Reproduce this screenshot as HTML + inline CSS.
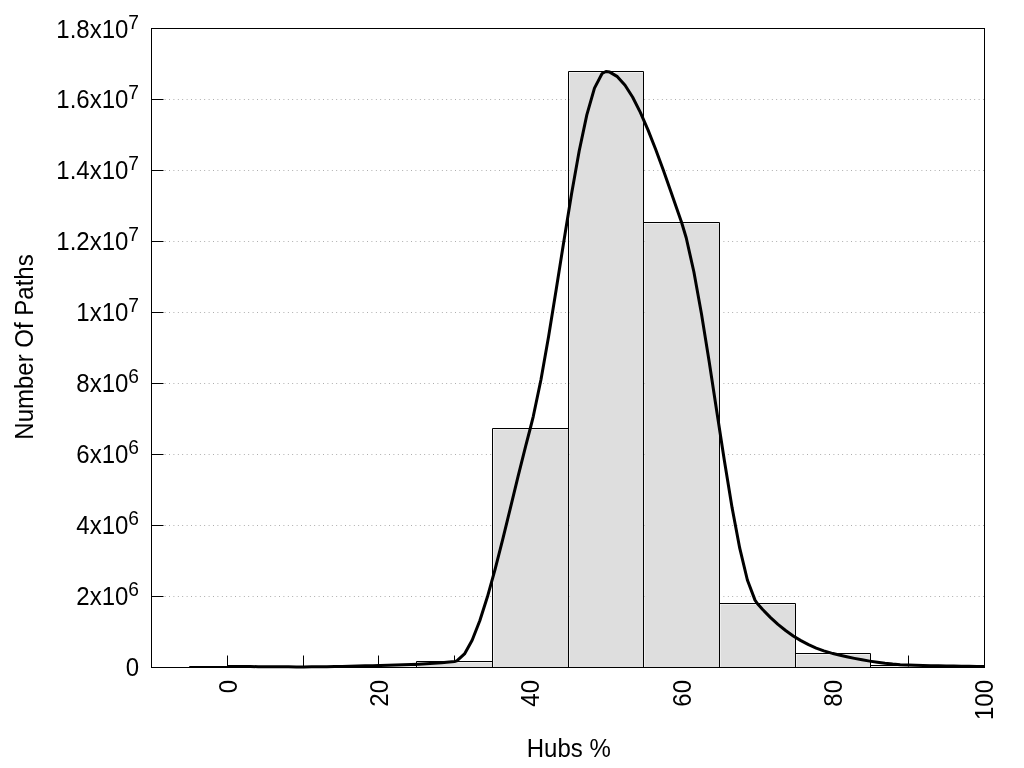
<!DOCTYPE html><html><head><meta charset="utf-8"><style>html,body{margin:0;padding:0;background:#fff;overflow:hidden}svg{display:block}text{font-family:"Liberation Sans",Arial,sans-serif;fill:#000}svg{will-change:transform}</style></head><body>
<svg width="1024" height="768" viewBox="0 0 1024 768">
<rect width="1024" height="768" fill="#fff"/>
<line x1="151.475" y1="596.5" x2="985" y2="596.5" stroke="#a0a0a0" stroke-width="1" stroke-dasharray="0.85 3.55"/>
<line x1="151.475" y1="525.5" x2="985" y2="525.5" stroke="#a0a0a0" stroke-width="1" stroke-dasharray="0.85 3.55"/>
<line x1="151.475" y1="454.5" x2="985" y2="454.5" stroke="#a0a0a0" stroke-width="1" stroke-dasharray="0.85 3.55"/>
<line x1="151.475" y1="383.5" x2="985" y2="383.5" stroke="#a0a0a0" stroke-width="1" stroke-dasharray="0.85 3.55"/>
<line x1="151.475" y1="312.5" x2="985" y2="312.5" stroke="#a0a0a0" stroke-width="1" stroke-dasharray="0.85 3.55"/>
<line x1="151.475" y1="241.5" x2="985" y2="241.5" stroke="#a0a0a0" stroke-width="1" stroke-dasharray="0.85 3.55"/>
<line x1="151.475" y1="170.5" x2="985" y2="170.5" stroke="#a0a0a0" stroke-width="1" stroke-dasharray="0.85 3.55"/>
<line x1="151.475" y1="99.5" x2="985" y2="99.5" stroke="#a0a0a0" stroke-width="1" stroke-dasharray="0.85 3.55"/>
<line x1="151" y1="667.5" x2="163.5" y2="667.5" stroke="#000" stroke-width="1"/>
<line x1="151" y1="596.5" x2="163.5" y2="596.5" stroke="#000" stroke-width="1"/>
<line x1="151" y1="525.5" x2="163.5" y2="525.5" stroke="#000" stroke-width="1"/>
<line x1="151" y1="454.5" x2="163.5" y2="454.5" stroke="#000" stroke-width="1"/>
<line x1="151" y1="383.5" x2="163.5" y2="383.5" stroke="#000" stroke-width="1"/>
<line x1="151" y1="312.5" x2="163.5" y2="312.5" stroke="#000" stroke-width="1"/>
<line x1="151" y1="241.5" x2="163.5" y2="241.5" stroke="#000" stroke-width="1"/>
<line x1="151" y1="170.5" x2="163.5" y2="170.5" stroke="#000" stroke-width="1"/>
<line x1="151" y1="99.5" x2="163.5" y2="99.5" stroke="#000" stroke-width="1"/>
<line x1="151" y1="28.5" x2="163.5" y2="28.5" stroke="#000" stroke-width="1"/>
<line x1="227.5" y1="667" x2="227.5" y2="655.5" stroke="#000" stroke-width="1"/>
<line x1="303.5" y1="667" x2="303.5" y2="655.5" stroke="#000" stroke-width="1"/>
<line x1="378.5" y1="667" x2="378.5" y2="655.5" stroke="#000" stroke-width="1"/>
<line x1="454.5" y1="667" x2="454.5" y2="655.5" stroke="#000" stroke-width="1"/>
<line x1="530.5" y1="667" x2="530.5" y2="655.5" stroke="#000" stroke-width="1"/>
<line x1="605.5" y1="667" x2="605.5" y2="655.5" stroke="#000" stroke-width="1"/>
<line x1="681.5" y1="667" x2="681.5" y2="655.5" stroke="#000" stroke-width="1"/>
<line x1="757.5" y1="667" x2="757.5" y2="655.5" stroke="#000" stroke-width="1"/>
<line x1="833.5" y1="667" x2="833.5" y2="655.5" stroke="#000" stroke-width="1"/>
<line x1="908.5" y1="667" x2="908.5" y2="655.5" stroke="#000" stroke-width="1"/>
<line x1="984.5" y1="667" x2="984.5" y2="655.5" stroke="#000" stroke-width="1"/>
<rect x="190.5" y="667.5" width="74.5" height="-0.5" fill="#dedede"/>
<path d="M189.5,667.5V666.5H265.5V667.5" fill="none" stroke="#000" stroke-width="1"/>
<rect x="266.5" y="667.5" width="74.5" height="-0.5" fill="#dedede"/>
<path d="M265.5,667.5V666.5H341.5V667.5" fill="none" stroke="#000" stroke-width="1"/>
<rect x="342.5" y="666.5" width="73.5" height="0.5" fill="#dedede"/>
<path d="M341.5,667.5V665.5H416.5V667.5" fill="none" stroke="#000" stroke-width="1"/>
<rect x="417.5" y="662.5" width="74.5" height="4.5" fill="#dedede"/>
<path d="M416.5,667.5V661.5H492.5V667.5" fill="none" stroke="#000" stroke-width="1"/>
<rect x="493.5" y="429.5" width="74.5" height="237.5" fill="#dedede"/>
<path d="M492.5,667.5V428.5H568.5V667.5" fill="none" stroke="#000" stroke-width="1"/>
<rect x="569.5" y="72.5" width="73.5" height="594.5" fill="#dedede"/>
<path d="M568.5,667.5V71.5H643.5V667.5" fill="none" stroke="#000" stroke-width="1"/>
<rect x="644.5" y="223.5" width="74.5" height="443.5" fill="#dedede"/>
<path d="M643.5,667.5V222.5H719.5V667.5" fill="none" stroke="#000" stroke-width="1"/>
<rect x="720.5" y="604.5" width="74.5" height="62.5" fill="#dedede"/>
<path d="M719.5,667.5V603.5H795.5V667.5" fill="none" stroke="#000" stroke-width="1"/>
<rect x="796.5" y="654.5" width="73.5" height="12.5" fill="#dedede"/>
<path d="M795.5,667.5V653.5H870.5V667.5" fill="none" stroke="#000" stroke-width="1"/>
<rect x="871.5" y="666.5" width="74.5" height="0.5" fill="#dedede"/>
<path d="M870.5,667.5V665.5H946.5V667.5" fill="none" stroke="#000" stroke-width="1"/>
<rect x="947.5" y="667.5" width="36.5" height="-0.5" fill="#dedede"/>
<path d="M946.5,667.5V666.5H984.5V667.5" fill="none" stroke="#000" stroke-width="1"/>
<rect x="151.5" y="28.5" width="833" height="639" fill="none" stroke="#000" stroke-width="1"/>
<polyline points="227.49,666.40 235.14,666.46 242.78,666.52 250.43,666.58 258.07,666.65 265.72,666.72 273.36,666.78 281.01,666.83 288.65,666.87 296.30,666.89 303.18,666.90 303.94,666.90 311.59,666.87 319.23,666.81 326.88,666.71 334.52,666.59 342.17,666.44 349.82,666.26 357.46,666.07 365.11,665.87 372.75,665.67 378.87,665.50 380.40,665.46 388.04,665.25 395.69,665.02 403.33,664.77 410.98,664.47 418.62,664.13 426.27,663.73 433.91,663.25 441.56,662.69 449.21,662.03 454.56,661.50 456.85,660.90 464.50,653.95 472.14,640.22 479.79,620.81 487.43,596.81 495.08,569.31 502.72,539.38 510.37,508.13 518.01,476.65 525.66,446.02 530.25,428.50 533.30,416.31 540.95,379.71 548.59,336.50 556.24,289.36 563.89,240.95 571.53,193.95 579.18,151.03 586.82,114.86 594.47,88.11 602.11,73.46 605.93,71.50 609.76,72.09 617.40,76.64 625.05,85.21 632.69,97.30 640.34,112.36 647.98,129.86 655.63,149.28 663.28,170.09 670.92,191.75 678.57,213.73 681.62,222.50 686.21,237.79 693.86,271.77 701.50,313.92 709.15,361.41 716.79,411.41 724.44,461.10 732.08,507.65 739.73,548.22 747.37,580.00 755.02,600.15 757.31,603.50 762.66,609.52 770.31,617.37 777.96,624.36 785.60,630.54 793.25,635.96 800.89,640.65 808.54,644.67 816.18,648.05 823.83,650.85 831.47,653.11 833.00,653.50 839.12,654.98 846.76,656.73 854.41,658.35 862.05,659.82 869.70,661.14 877.35,662.29 884.99,663.28 892.64,664.07 900.28,664.68 907.93,665.07 908.69,665.10 915.57,665.32 923.22,665.53 930.86,665.71 938.51,665.86 946.15,665.99 953.80,666.11 961.44,666.22 969.09,666.33 976.73,666.46 984.38,666.60" fill="none" stroke="#000" stroke-width="3.0" stroke-linejoin="round" stroke-linecap="butt"/>
<text transform="translate(139,676.0) scale(1,1.06)" font-size="24" text-anchor="end">0</text>
<text transform="translate(139,605.0) scale(1,1.06)" font-size="24" text-anchor="end">2x10<tspan dy="-8.867924528301886" font-size="19.2">6</tspan></text>
<text transform="translate(139,534.0) scale(1,1.06)" font-size="24" text-anchor="end">4x10<tspan dy="-8.867924528301886" font-size="19.2">6</tspan></text>
<text transform="translate(139,463.0) scale(1,1.06)" font-size="24" text-anchor="end">6x10<tspan dy="-8.867924528301886" font-size="19.2">6</tspan></text>
<text transform="translate(139,392.0) scale(1,1.06)" font-size="24" text-anchor="end">8x10<tspan dy="-8.867924528301886" font-size="19.2">6</tspan></text>
<text transform="translate(139,321.0) scale(1,1.06)" font-size="24" text-anchor="end">1x10<tspan dy="-8.867924528301886" font-size="19.2">7</tspan></text>
<text transform="translate(139,250.0) scale(1,1.06)" font-size="24" text-anchor="end">1.2x10<tspan dy="-8.867924528301886" font-size="19.2">7</tspan></text>
<text transform="translate(139,179.0) scale(1,1.06)" font-size="24" text-anchor="end">1.4x10<tspan dy="-8.867924528301886" font-size="19.2">7</tspan></text>
<text transform="translate(139,108.0) scale(1,1.06)" font-size="24" text-anchor="end">1.6x10<tspan dy="-8.867924528301886" font-size="19.2">7</tspan></text>
<text transform="translate(139,38.0) scale(1,1.06)" font-size="24" text-anchor="end">1.8x10<tspan dy="-8.867924528301886" font-size="19.2">7</tspan></text>
<text transform="translate(236.90,680) rotate(-90) scale(1,1.06)" font-size="24" text-anchor="end">0</text>
<text transform="translate(388.40,680) rotate(-90) scale(1,1.06)" font-size="24" text-anchor="end">20</text>
<text transform="translate(538.90,680) rotate(-90) scale(1,1.06)" font-size="24" text-anchor="end">40</text>
<text transform="translate(691.10,680) rotate(-90) scale(1,1.06)" font-size="24" text-anchor="end">60</text>
<text transform="translate(841.50,680) rotate(-90) scale(1,1.06)" font-size="24" text-anchor="end">80</text>
<text transform="translate(992.90,680) rotate(-90) scale(1,1.06)" font-size="24" text-anchor="end">100</text>
<text transform="translate(568.8,757) scale(1,1.06)" font-size="24" text-anchor="middle">Hubs %</text>
<text transform="translate(33,347) rotate(-90) scale(1,1.06)" font-size="24" text-anchor="middle">Number Of Paths</text>
</svg></body></html>
